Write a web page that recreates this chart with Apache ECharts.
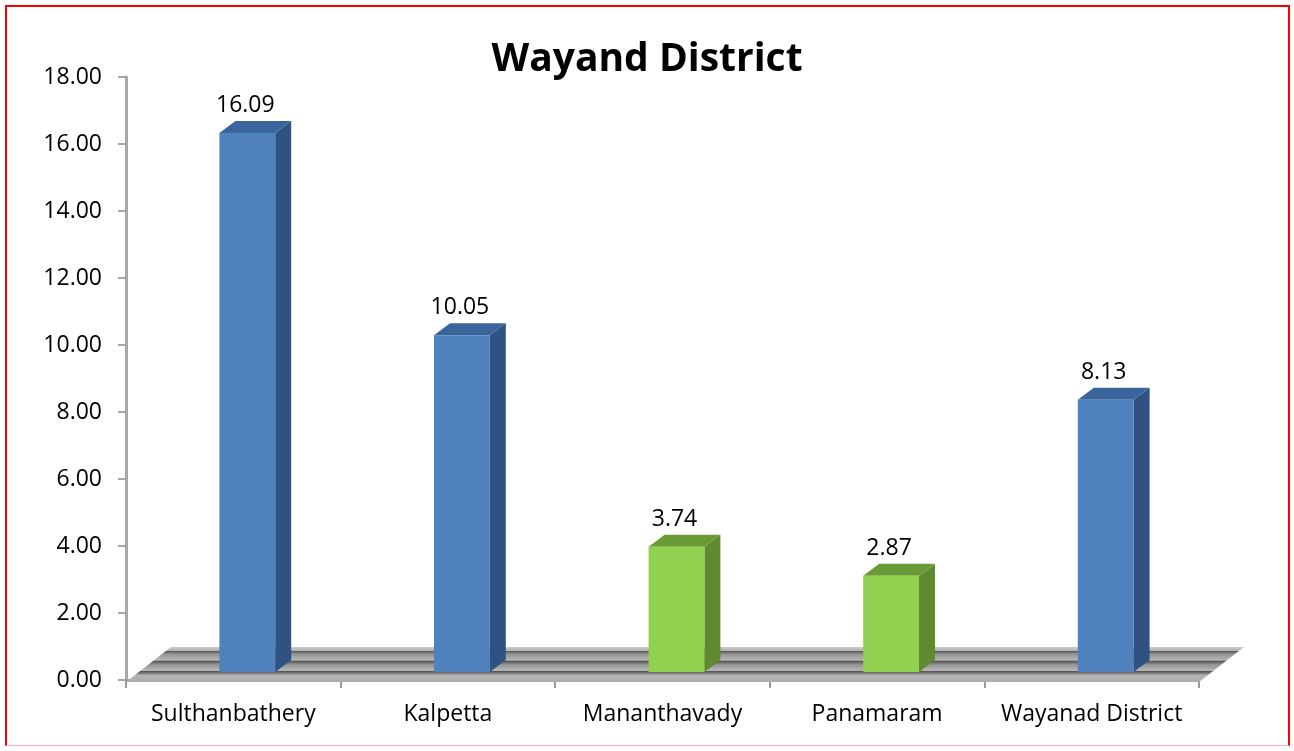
<!DOCTYPE html>
<html>
<head>
<meta charset="utf-8">
<script src="https://cdn.jsdelivr.net/npm/echarts@6/dist/echarts.min.js"></script>
<style>
html,body{margin:0;padding:0;background:#fff;}
#frame{position:absolute;left:5px;top:5px;width:1285px;height:741px;border:2px solid #ff0000;border-bottom:1px solid #ffb0b0;box-sizing:border-box;}
#chart{position:absolute;left:0;top:0;width:1294px;height:751px;}
</style>
</head>
<body>
<div id="frame"></div>
<div id="chart"></div>
<script>
var categories = ['Sulthanbathery', 'Kalpetta', 'Mananthavady', 'Panamaram', 'Wayanad District'];
var values = [16.09, 10.05, 3.74, 2.87, 8.13];
var barKinds = ['blue', 'blue', 'green', 'green', 'blue'];
var yTicks = [0, 2, 4, 6, 8, 10, 12, 14, 16, 18];

var palette = {
  blue: {front: '#4f81bd', side: '#2f5283', top: '#3a659c'},
  green: {front: '#92d050', side: '#5f8a30', top: '#6a9a35'}
};

var FONT = 'Open Sans';
var DEPTH = [45, -33];      // floor depth vector
var BAR_OFF = [14, -8];     // bar front face offset from axis
var BAR_D = [16, -12];      // bar depth

function renderFloor(params, api) {
  var cs = params.coordSys;
  var x0 = cs.x, x1 = cs.x + cs.width, y0 = cs.y + cs.height;
  var pts = [[x0, y0 + 2], [x1, y0 + 2], [x1 + DEPTH[0], y0 + DEPTH[1]], [x0 + DEPTH[0], y0 + DEPTH[1]]];
  var grad = new echarts.graphic.LinearGradient(0, 0, 0, 1, [
    {offset: 0, color: '#cacaca'},
    {offset: 0.10, color: '#b4b4b4'},
    {offset: 0.11, color: '#505050'},
    {offset: 0.20, color: '#929292'},
    {offset: 0.38, color: '#b8b8b8'},
    {offset: 0.40, color: '#505050'},
    {offset: 0.50, color: '#929292'},
    {offset: 0.67, color: '#b8b8b8'},
    {offset: 0.69, color: '#505050'},
    {offset: 0.78, color: '#929292'},
    {offset: 0.80, color: '#b6b6b6'},
    {offset: 1, color: '#ababab'}
  ]);
  return {
    type: 'polygon',
    shape: {points: pts},
    style: {fill: grad, stroke: null}
  };
}

function renderBar(params, api) {
  var i = api.value(0);
  var v = api.value(1);
  var base = api.coord([i, 0]);
  var top = api.coord([i, v]);
  var cw = api.size([1, 0])[0];
  var w = cw * 0.26;
  var cx = base[0] + BAR_OFF[0];
  var xl = cx - w / 2, xr = cx + w / 2;
  var yb = base[1] + BAR_OFF[1];
  var yt = top[1] + BAR_OFF[1];
  var c = palette[barKinds[i]];
  return {
    type: 'group',
    children: [
      {type: 'polygon', shape: {points: [[xr, yb], [xr + BAR_D[0], yb + BAR_D[1]], [xr + BAR_D[0], yt + BAR_D[1]], [xr, yt]]}, style: {fill: c.side}},
      {type: 'polygon', shape: {points: [[xl, yt], [xr, yt], [xr + BAR_D[0], yt + BAR_D[1]], [xl + BAR_D[0], yt + BAR_D[1]]]}, style: {fill: c.top}},
      {type: 'rect', shape: {x: xl, y: yt, width: w, height: yb - yt}, style: {fill: c.front}},
      {type: 'text', style: {text: v.toFixed(2), x: cx - 2, y: yt + BAR_D[1] - 4, align: 'center', verticalAlign: 'bottom', fill: '#000', font: '23px "' + FONT + '"'}}
    ]
  };
}

var chart = echarts.init(document.getElementById('chart'), null, {renderer: 'canvas'});
chart.setOption({
  animation: false,
  backgroundColor: 'transparent',
  title: {
    text: 'Wayand District',
    left: 'center',
    top: 35,
    textStyle: {fontFamily: FONT, fontWeight: 'bold', fontSize: 39, color: '#000'}
  },
  grid: {left: 126, right: 95, top: 77, bottom: 71, containLabel: false},
  xAxis: {
    type: 'category',
    data: categories,
    axisLine: {show: true, lineStyle: {color: '#9a9a9a', width: 2}},
    axisTick: {show: true, interval: 0, length: 8, lineStyle: {color: '#9a9a9a', width: 2}},
    axisLabel: {interval: 0, hideOverlap: false, fontFamily: FONT, fontSize: 23, color: '#000', margin: 23},
    z: 1
  },
  yAxis: {
    type: 'value',
    min: 0, max: 18, interval: 2,
    axisLine: {show: true, lineStyle: {color: '#a8a8a8', width: 3}},
    axisTick: {show: true, length: 8, lineStyle: {color: '#a8a8a8', width: 2}},
    splitLine: {show: false},
    axisLabel: {fontFamily: FONT, fontSize: 23, color: '#000', margin: 24,
      formatter: function (v) { return v.toFixed(2); }}
  },
  series: [
    {type: 'custom', renderItem: renderFloor, data: [[0]], z: 2, silent: true},
    {type: 'custom', renderItem: renderBar, data: values.map(function (v, i) { return [i, v]; }), encode: {x: 0, y: 1}, z: 3}
  ]
});
</script>
</body>
</html>
